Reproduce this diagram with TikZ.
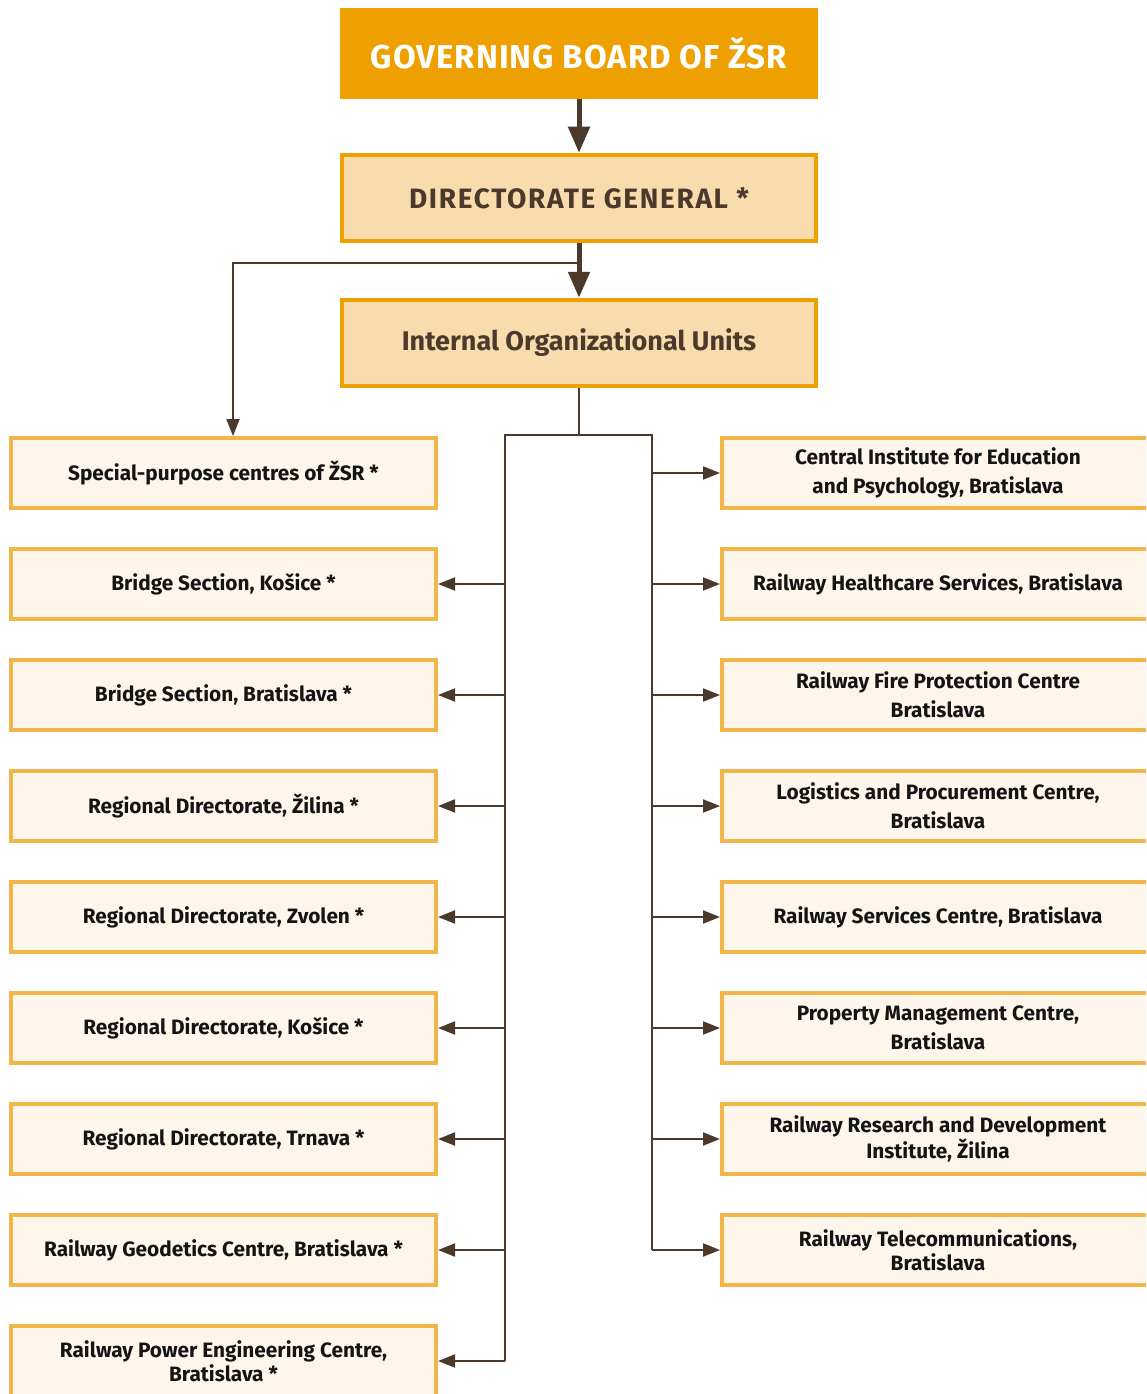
\documentclass[tikz,border=0pt]{standalone}
\usepackage{fontspec}
\setmainfont{Fira Sans}
\usetikzlibrary{arrows.meta}
\definecolor{gold}{HTML}{EDA000}
\definecolor{lightgold}{HTML}{F8DCAE}
\definecolor{boxedge}{HTML}{F2B54A}
\definecolor{boxfill}{HTML}{FEF6EA}
\definecolor{brownline}{HTML}{4B3A2B}
\definecolor{inktext}{HTML}{141414}
\tikzset{
  topbox/.style={fill=gold, draw=none, minimum width=478pt, minimum height=91pt, inner sep=0pt,
    text=white, font=\fontsize{33}{38}\selectfont\bfseries\addfontfeature{LetterSpace=3}},
  midbox/.style={fill=lightgold, draw=gold, line width=4.5pt, minimum width=474pt, minimum height=86pt, inner sep=0pt,
    text=brownline, font=\fontsize{27}{32}\selectfont\bfseries},
  dgfont/.style={font=\fontsize{28}{32}\selectfont\bfseries\addfontfeature{LetterSpace=6}},
  unitbox/.style={fill=boxfill, draw=boxedge, line width=4pt, minimum width=425pt, minimum height=70pt, inner sep=0pt,
    text=inktext, align=center, font=\fontsize{20.8}{29}\selectfont\bfseries},
  runitbox/.style={unitbox, minimum width=432pt},
  tight/.style={font=\fontsize{20.8}{24}\selectfont\bfseries},
  thickarr/.style={draw=brownline, line width=5pt, -{Triangle[length=26pt,width=21pt]}},
  thinarr/.style={draw=brownline, line width=2pt, -{Triangle[length=17pt,width=13pt]}},
  busline/.style={draw=brownline, line width=2pt}
}
\begin{document}
\begin{tikzpicture}[x=1pt,y=-1pt]
\useasboundingbox (0,0) rectangle (1146,1394);
\clip (0,0) rectangle (1146,1394);
\node[topbox] (gb) at (579,53.5) {GOVERNING BOARD OF ŽSR};
\node[midbox,dgfont] (dg) at (579,198) {DIRECTORATE GENERAL *};
\node[midbox] (iou) at (579,343) {Internal Organizational Units};
% left column
\node[unitbox] (l1) at (223.5,473) {Special-purpose centres of ŽSR *};
\node[unitbox] (l2) at (223.5,584) {Bridge Section, Košice *};
\node[unitbox] (l3) at (223.5,695) {Bridge Section, Bratislava *};
\node[unitbox] (l4) at (223.5,806) {Regional Directorate, Žilina *};
\node[unitbox] (l5) at (223.5,917) {Regional Directorate, Zvolen *};
\node[unitbox] (l6) at (223.5,1028) {Regional Directorate, Košice *};
\node[unitbox] (l7) at (223.5,1139) {Regional Directorate, Trnava *};
\node[unitbox] (l8) at (223.5,1250) {Railway Geodetics Centre, Bratislava *};
\node[unitbox,tight] (l9) at (223.5,1361) {Railway Power Engineering Centre,\\Bratislava *};
% right column
\node[runitbox] (r1) at (938,473) {Central Institute for Education\\and Psychology, Bratislava};
\node[runitbox] (r2) at (938,584) {Railway Healthcare Services, Bratislava};
\node[runitbox] (r3) at (938,695) {Railway Fire Protection Centre\\Bratislava};
\node[runitbox] (r4) at (938,806) {Logistics and Procurement Centre,\\Bratislava};
\node[runitbox] (r5) at (938,917) {Railway Services Centre, Bratislava};
\node[runitbox] (r6) at (938,1028) {Property Management Centre,\\Bratislava};
\node[runitbox,tight] (r7) at (938,1139) {Railway Research and Development\\Institute, Žilina};
\node[runitbox,tight] (r8) at (938,1250) {Railway Telecommunications,\\Bratislava};
% connectors
\draw[thickarr] (gb.south) -- (dg.north);
\draw[thickarr] (dg.south) -- (iou.north);
\coordinate (branch) at (579,263);
\coordinate (spin) at (233,263);
\draw[thinarr] (branch) -- (spin) -- (spin |- l1.north);
\coordinate (busmid) at (579,435);
\coordinate (busl) at (505,435);
\coordinate (busr) at (652,435);
\draw[busline] (iou.south) -- (busmid);
\draw[busline] (busl |- l9.east) -- (busl) -- (busr) -- (busr |- r8.west);
\foreach \n in {l2,l3,l4,l5,l6,l7,l8,l9} {
  \draw[thinarr] (busl |- \n.east) -- (\n.east);
}
\foreach \n in {r1,r2,r3,r4,r5,r6,r7,r8} {
  \draw[thinarr] (busr |- \n.west) -- (\n.west);
}
\end{tikzpicture}
\end{document}
